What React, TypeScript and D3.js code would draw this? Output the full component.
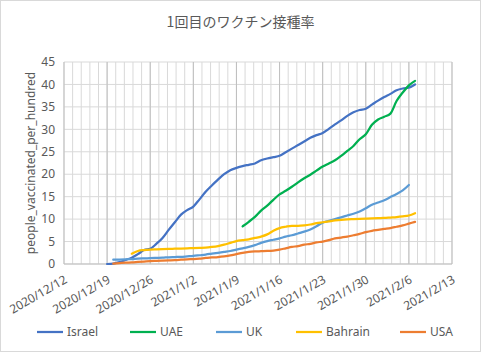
import React from "react";
import * as d3 from "d3";

// 1回目のワクチン接種率 (people_vaccinated_per_hundred), daily values
const countries = ["Israel", "UAE", "UK", "Bahrain", "USA"];
const colors = ["#4472C4", "#00B050", "#5B9BD5", "#FFC000", "#ED7D31"];
const startDates = ["2020-12-19", "2021-01-10", "2020-12-20", "2020-12-23", "2020-12-20"];

const israel = [0, 0.1, 0.4, 0.9, 1.4, 2.2, 3.1, 3.4, 4.5, 5.8, 7.6, 9.3, 11.0, 12.0, 12.8, 14.4, 16.1, 17.5, 18.8,
  20.0, 20.9, 21.4, 21.8, 22.1, 22.4, 23.1, 23.5, 23.8, 24.1, 24.9, 25.7, 26.5, 27.3, 28.1, 28.7, 29.2, 30.1, 31.1,
  32.0, 33.0, 33.8, 34.3, 34.6, 35.5, 36.4, 37.2, 37.9, 38.7, 39.1, 39.3, 40.0];
const uae = [8.4, 9.4, 10.5, 11.9, 13.0, 14.3, 15.5, 16.3, 17.2, 18.2, 19.1, 19.9, 20.8, 21.7, 22.4, 23.1, 24.1,
  25.2, 26.3, 27.8, 28.9, 31.0, 32.2, 32.8, 33.5, 36.3, 38.2, 39.8, 40.8];
const uk = [0.95, 1.0, 1.05, 1.1, 1.2, 1.25, 1.3, 1.35, 1.4, 1.5, 1.55, 1.6, 1.7, 1.8, 1.95, 2.1, 2.3, 2.5, 2.7,
  2.9, 3.2, 3.5, 3.8, 4.2, 4.7, 5.1, 5.4, 5.7, 6.1, 6.4, 6.8, 7.2, 7.7, 8.4, 9.2, 9.6, 10.0, 10.4, 10.8, 11.2, 11.7,
  12.4, 13.2, 13.7, 14.2, 14.9, 15.6, 16.4, 17.6];
const bahrain = [2.3, 2.9, 3.1, 3.2, 3.25, 3.3, 3.35, 3.4, 3.45, 3.5, 3.55, 3.6, 3.65, 3.8, 4.0, 4.3, 4.7, 5.1,
  5.3, 5.5, 5.8, 6.1, 6.6, 7.4, 8.0, 8.3, 8.5, 8.5, 8.6, 8.8, 9.1, 9.3, 9.5, 9.7, 9.85, 9.95, 10.0, 10.05, 10.1,
  10.15, 10.2, 10.25, 10.35, 10.45, 10.6, 10.8, 11.3];
const usa = [0.1, 0.2, 0.3, 0.35, 0.45, 0.55, 0.65, 0.7, 0.75, 0.8, 0.85, 0.95, 1.05, 1.1, 1.2, 1.35, 1.45, 1.55,
  1.7, 1.9, 2.2, 2.5, 2.7, 2.8, 2.85, 2.9, 3.0, 3.2, 3.5, 3.8, 4.0, 4.3, 4.5, 4.8, 5.0, 5.3, 5.7, 5.9, 6.1, 6.4,
  6.7, 7.1, 7.4, 7.6, 7.8, 8.0, 8.3, 8.6, 9.0, 9.4];
const seriesValues = [israel, uae, uk, bahrain, usa];

const xTickDates = ["2020-12-12", "2020-12-19", "2020-12-26", "2021-01-02", "2021-01-09", "2021-01-16",
  "2021-01-23", "2021-01-30", "2021-02-06", "2021-02-13"];
const yTicks = [0, 5, 10, 15, 20, 25, 30, 35, 40, 45];

const W = 481;
const H = 352;
const margin = { left: 64, right: 29, top: 62, bottom: 88 };
const FONT = "'Noto Sans', 'Noto Sans CJK JP', sans-serif";
const TEXT = "#595959";

const parse = d3.utcParse("%Y-%m-%d");
const fmt = d3.utcFormat("%Y/%-m/%-d");

export default function App() {
  const x = d3.scaleUtc()
    .domain([parse(xTickDates[0])!, parse(xTickDates[xTickDates.length - 1])!])
    .range([margin.left, W - margin.right]);
  const y = d3.scaleLinear().domain([0, 45]).range([H - margin.bottom, margin.top]);

  const series = countries.map((name, i) => {
    const start = parse(startDates[i])!;
    return {
      name,
      color: colors[i],
      points: seriesValues[i].map((v, j) => ({ date: d3.utcDay.offset(start, j), v })),
    };
  });

  const line = d3.line<{ date: Date; v: number }>()
    .x(d => x(d.date))
    .y(d => y(d.v))
    .curve(d3.curveMonotoneX);

  // minor vertical gridlines every 1.4 days (5 per week)
  const t0 = parse(xTickDates[0])!.getTime();
  const minor: Date[] = [];
  for (let k = 0; k <= 45; k++) minor.push(new Date(t0 + k * 1.4 * 86400000));

  const legendX = [37, 130, 216, 296, 400];

  return (
    <svg width={W} height={H} style={{ position: "absolute", left: 0, top: 0, background: "#fff" }}
      fontFamily={FONT}>
      <rect x={0.5} y={0.5} width={W - 1} height={H - 1} fill="#fff" stroke="#d9d9d9" />
      <text x={W / 2} y={27} textAnchor="middle" fontSize={14} fill={TEXT}
        fontFamily="'Noto Sans CJK JP', sans-serif">1回目のワクチン接種率</text>

      {minor.map((d, i) => (
        <line key={"m" + i} x1={x(d)} x2={x(d)} y1={y(45)} y2={y(0)} stroke="#d9d9d9" strokeWidth={1} />
      ))}
      {yTicks.map(t => (
        <line key={"h" + t} x1={margin.left} x2={W - margin.right} y1={y(t)} y2={y(t)}
          stroke="#d9d9d9" strokeWidth={1} />
      ))}
      {xTickDates.map(s => (
        <line key={"v" + s} x1={x(parse(s)!)} x2={x(parse(s)!)} y1={y(45)} y2={y(0)}
          stroke="#bfbfbf" strokeWidth={1} />
      ))}
      <line x1={margin.left} x2={W - margin.right} y1={y(0)} y2={y(0)} stroke="#bfbfbf" />

      {yTicks.map(t => (
        <text key={"yt" + t} x={55} y={y(t)} dy="0.35em" textAnchor="end" fontSize={12} fill={TEXT}>{t}</text>
      ))}
      <text transform={`translate(35,${(y(0) + y(45)) / 2}) rotate(-90)`} textAnchor="middle"
        fontSize={12} fill={TEXT}>people_vaccinated_per_hundred</text>

      {xTickDates.map(s => {
        const px = x(parse(s)!) + 4;
        return (
          <text key={"xt" + s} transform={`translate(${px},${y(0) + 18}) rotate(-30)`} textAnchor="end"
            fontSize={12} fill={TEXT}>{fmt(parse(s)!)}</text>
        );
      })}

      {series.map(s => (
        <path key={s.name} d={line(s.points) || ""} fill="none" stroke={s.color} strokeWidth={2.25}
          strokeLinecap="round" strokeLinejoin="round" />
      ))}

      {series.map((s, i) => (
        <g key={"lg" + s.name} transform={`translate(${legendX[i]},332)`}>
          <line x1={0} x2={26} y1={0} y2={0} stroke={s.color} strokeWidth={2.25} />
          <text x={30} y={0} dy="0.35em" fontSize={12} fill={TEXT}>{s.name}</text>
        </g>
      ))}
    </svg>
  );
}
